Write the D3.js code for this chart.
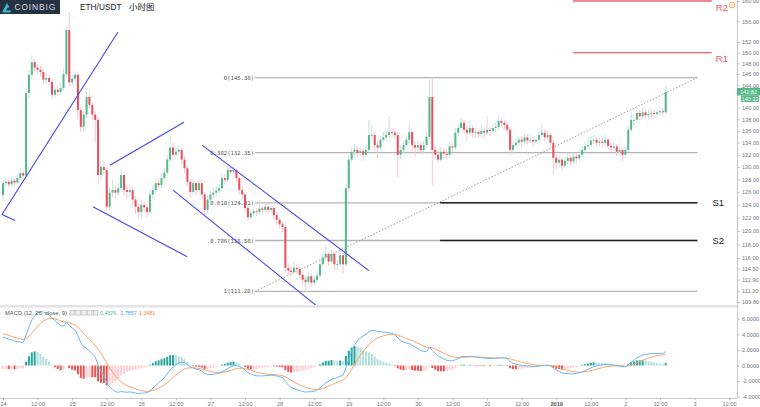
<!DOCTYPE html>
<html><head><meta charset="utf-8">
<script src="https://cdn.jsdelivr.net/npm/d3@7/dist/d3.min.js"></script>
<style>
body{margin:0;background:#fff;}
svg{display:block;font-family:"Liberation Sans",Arial,sans-serif;}
</style>
</head><body>
<svg id="c" width="760" height="407"></svg>
<script>
// ---------------- DATA ----------------
const startTime = new Date(2018, 11, 24, 0, 0); // first hourly candle
const firstOpen = 125.5;
const closes = [127.4,127.6,127.2,127.8,127.5,128.2,129.0,128.6,142.6,145.9,
148.2,147.2,146.8,146.4,145.0,145.3,144.6,142.3,143.2,142.8,
143.5,146.0,154.3,144.5,145.2,145.9,139.6,136.7,138.8,141.9,
140.5,138.8,137.9,128.7,130.0,129.5,123.7,125.9,126.3,125.9,
126.6,128.7,126.3,126.0,126.3,124.8,123.7,122.9,124.0,123.6,
122.9,125.6,126.3,127.4,127.1,128.2,129.1,131.2,133.2,132.0,
132.5,132.8,131.2,129.8,127.6,126.0,127.4,126.3,127.4,125.6,
123.2,124.8,125.6,125.9,126.2,126.6,128.2,127.9,129.5,129.2,
129.5,128.2,126.3,125.6,123.5,122.1,122.7,123.0,122.9,123.4,
123.2,123.7,123.2,123.5,122.4,121.7,121.0,120.6,114.6,114.2,
114.0,114.6,114.4,113.6,112.9,112.6,113.4,112.5,112.9,113.5,
115.1,116.1,116.6,115.5,116.6,115.1,115.1,116.4,115.1,126.6,
131.2,132.5,132.8,132.3,132.6,132.0,132.8,135.3,135.3,133.6,
133.2,134.5,134.9,135.3,135.8,135.7,135.3,132.0,132.8,133.6,
134.5,135.8,133.6,133.2,133.6,132.8,133.6,135.0,141.9,132.8,
132.0,131.2,132.5,132.2,132.0,133.4,133.2,135.7,136.5,137.4,
136.2,135.7,136.5,135.7,135.8,135.5,136.0,135.7,136.2,136.0,
136.5,136.7,137.7,137.4,137.0,136.2,132.8,133.6,134.0,134.5,
134.2,134.9,134.4,134.5,134.2,134.5,135.3,135.7,134.9,135.3,
134.0,131.5,130.7,131.2,130.2,131.0,131.5,130.9,131.7,131.4,
132.0,132.8,133.4,133.6,134.4,134.5,134.0,134.2,134.0,134.5,
133.5,133.2,133.4,132.5,132.8,132.0,132.8,136.2,137.9,137.9,
139.1,138.5,139.2,138.7,138.9,139.1,138.9,139.2,139.4,139.2,
142.8];
const highs = [127.9,128.3,127.9,128.4,128.2,128.9,129.8,129.6,143.4,146.8,
149.5,148.8,147.9,147.5,146.9,146.2,145.8,144.9,144.0,143.9,
144.5,147.0,155.0,157.8,146.1,146.6,146.3,140.2,139.5,142.8,
142.5,140.9,139.4,138.5,131.0,130.8,130.0,126.6,127.9,127.0,
127.5,129.6,129.2,127.1,127.2,126.8,125.4,124.2,124.8,124.6,
124.1,126.3,127.0,128.1,128.2,128.9,129.9,131.9,135.5,134.0,
133.5,133.6,133.2,131.8,130.2,128.0,128.1,127.8,128.3,127.9,
125.9,125.5,126.2,126.6,127.0,127.3,128.9,128.9,130.2,130.1,
130.3,129.9,128.5,126.9,125.9,123.9,123.3,123.6,123.5,124.7,
123.9,124.3,124.1,124.0,123.8,122.8,122.0,121.4,120.9,115.3,
114.8,115.6,115.2,114.8,114.0,113.4,114.0,113.8,113.5,114.1,
115.8,116.8,117.8,116.9,117.3,116.9,115.8,117.5,116.8,127.3,
131.9,133.2,133.8,133.5,133.3,133.0,133.5,137.9,136.9,135.9,
134.3,135.2,135.8,136.2,138.6,136.5,136.4,135.9,133.6,134.3,
135.3,137.3,136.3,134.2,134.4,134.2,134.3,135.8,145.0,145.5,
133.6,132.7,133.3,133.1,132.9,134.2,134.0,136.5,137.2,138.2,
137.9,136.9,137.7,137.0,136.5,136.4,137.0,136.6,138.5,136.9,
137.3,137.5,138.5,138.3,137.9,137.4,136.8,134.4,134.8,135.2,
135.1,135.6,135.4,135.3,135.0,135.2,136.0,137.3,136.2,136.0,
135.6,134.4,131.9,131.9,131.6,131.7,132.2,131.9,132.3,132.2,
132.7,133.5,134.2,134.9,135.2,135.3,135.0,134.9,134.8,135.3,
134.8,134.0,134.1,133.8,133.5,133.2,133.4,137.0,139.5,138.7,
139.9,139.6,140.0,139.7,139.6,139.8,139.7,139.9,140.1,140.0,
143.9];
const lows = [124.8,126.9,126.8,126.9,127.0,127.2,127.9,128.0,128.2,141.5,
145.2,146.5,146.0,145.6,144.2,144.3,143.8,141.5,141.8,142.0,
142.3,143.0,145.5,143.8,143.9,144.6,138.0,135.8,136.0,138.2,
139.8,137.8,134.0,127.2,127.8,128.7,122.9,123.2,125.2,125.0,
125.3,126.0,125.4,124.9,125.3,123.8,122.6,122.1,122.0,122.8,
122.1,122.5,125.0,125.8,126.5,126.6,127.7,128.7,130.8,131.2,
131.3,131.9,130.5,129.0,126.8,125.2,125.5,125.6,125.9,124.9,
122.5,122.7,124.3,125.0,125.4,125.7,126.2,127.2,127.5,128.6,
128.8,127.6,125.5,124.8,122.8,121.5,121.8,122.2,122.3,122.5,
122.6,122.8,122.6,122.7,121.7,121.0,120.3,119.9,114.0,113.5,
113.3,113.6,113.7,113.0,112.2,111.5,112.2,111.9,112.1,112.6,
113.2,114.8,115.6,114.9,115.2,114.2,114.2,114.8,113.8,114.8,
126.1,130.8,131.8,131.6,131.9,131.0,131.6,132.5,134.5,132.6,
131.4,132.8,134.0,134.5,135.0,135.0,134.6,128.4,131.3,132.1,
133.2,134.0,132.7,131.6,132.5,132.0,132.2,133.2,134.6,127.1,
131.2,130.6,130.9,131.5,131.2,131.6,132.4,132.8,135.0,136.2,
135.5,134.3,135.2,134.9,135.0,134.8,134.9,134.6,135.3,135.1,
135.5,135.8,136.2,136.8,136.2,135.5,132.0,132.1,133.1,133.5,
133.4,133.8,133.7,133.9,133.5,133.8,134.0,134.9,134.2,134.4,
133.3,128.7,129.7,130.0,129.4,129.8,130.5,130.2,130.5,130.7,
131.0,131.6,132.4,133.0,133.3,133.8,133.4,133.5,133.3,133.6,
132.9,132.4,132.6,131.8,132.0,131.0,131.6,132.4,135.8,137.0,
137.6,137.8,138.0,138.0,138.2,138.3,138.2,138.5,138.6,138.5,
139.0];

const priceTicks = [160,156,152,150,148,146,144,140,138,136,134,132,130,128,126,124,122,120,118,116,114.5,112.9,111.3,109.8];
const macdTicks = [6,4,2,0,-2,-4];
const xTickLabels = ["24","12:00","25","12:00","26","12:00","27","12:00","28","12:00","29","12:00","30","12:00","31","12:00","2019","12:00","2","12:00","3","12:00"];
const macdSeed = [125.0, 121.3, 4.2];       // EMA12, EMA26, signal before first candle
const macdLegend = ["0.4376","1.7857","1.3481"];
const priceTags = ["142.82","140.33"];

const fibRatios = ["0","0.382","0.618","0.786","1"];
const fibLevels = [145.38,132.35,124.31,118.58,111.28];
const fibSpan = [87.5, 241];                // hours from start

const pivotNames = ["R2","R1","S1","S2"];
const pivotLevels = [160,150,124.31,118.58];
const pivotSpans = [[197.8,246],[197.8,246],[151.7,241],[151.7,241]];

// trend lines: [hourA, priceA, hourB, priceB]
const trendLines = [
  [-0.35,122.5, 39.9,153.9],
  [-0.35,122.5, 4.2,121.6],
  [37.1,130.3, 62.8,137.5],
  [31.2,123.7, 63.9,116.2],
  [69.1,133.6, 127.0,114.2],
  [59.0,126.3, 110.0,108.9]
];
const fibDiagonal = [87.5,111.28, 241,145.38];

// ---------------- SCALES ----------------
const svg = d3.select("#c");
const x = d3.scaleTime().domain([startTime, d3.timeHour.offset(startTime, 252)]).range([3, 729.1]);
const xh = h => x(new Date(startTime.getTime() + h*3600e3));
const y = d3.scaleLog().domain([109.8,160]).range([302,1]);
const ym = d3.scaleLinear().domain([-4,6]).range([396.7,318.7]);
const AX = 737;

const candles = closes.map((c,i)=>({
  t: d3.timeHour.offset(startTime,i),
  o: i===0?firstOpen:closes[i-1], c, h: highs[i], l: lows[i]
}));

// MACD (12,26,9) from closes
const k12=2/13,k26=2/27,k9=2/10;
let e12=macdSeed[0], e26=macdSeed[1], sig=macdSeed[2], prevHist=macdSeed[0]-macdSeed[1]-macdSeed[2];
const macd = candles.map(d=>{
  e12 = d.c*k12 + e12*(1-k12);
  e26 = d.c*k26 + e26*(1-k26);
  const m = e12-e26;
  sig = m*k9 + sig*(1-k9);
  const hst = m-sig;
  const r = {t:d.t, m, s:sig, hst, prev: prevHist};
  prevHist = hst;
  return r;
});

// ---------------- CLIPS ----------------
const defs = svg.append("defs");
defs.append("clipPath").attr("id","cp").append("rect").attr("x",0).attr("y",0).attr("width",AX).attr("height",305);
defs.append("clipPath").attr("id","cm").append("rect").attr("x",0).attr("y",308).attr("width",AX).attr("height",89);

svg.append("rect").attr("x",0).attr("y",305).attr("width",AX).attr("height",2.5).attr("fill","#e4e4e4");

const gp = svg.append("g").attr("clip-path","url(#cp)");

// fib levels
fibLevels.forEach((v,i)=>{
  gp.append("line").attr("x1",xh(fibSpan[0])).attr("x2",xh(fibSpan[1]))
    .attr("y1",y(v)).attr("y2",y(v)).attr("stroke","#b4b4b4").attr("stroke-width",1.3);
  gp.append("text").attr("x",xh(fibSpan[0])-1).attr("y",y(v)+2).attr("text-anchor","end")
    .attr("font-size",5.6).attr("fill","#555").attr("font-family","DejaVu Sans Mono, monospace")
    .text(fibRatios[i]+"("+v.toFixed(2)+")");
});
gp.append("line").attr("x1",xh(fibDiagonal[0])).attr("y1",y(fibDiagonal[1]))
  .attr("x2",xh(fibDiagonal[2])).attr("y2",y(fibDiagonal[3]))
  .attr("stroke","#9a9a9a").attr("stroke-width",0.9).attr("stroke-dasharray","1.6,1.6");

// pivots
pivotLevels.forEach((v,i)=>{
  const red = pivotNames[i][0]==="R";
  svg.append("line").attr("x1",xh(pivotSpans[i][0])).attr("x2",xh(pivotSpans[i][1]))
    .attr("y1",y(v)).attr("y2",y(v)).attr("stroke",red?"#f0606c":"#222").attr("stroke-width",red?1.3:1.5);
  svg.append("text").attr("x",xh(pivotSpans[i][1])+(red?4:15)).attr("y",y(v)+(red?9.5:3.5))
    .attr("font-size",9.5).attr("fill",red?"#f0606c":"#222").text(pivotNames[i]);
});

// candles
const up = d=>d.c>=d.o;
gp.selectAll("line.wick").data(candles).join("line")
  .attr("x1",d=>x(d.t)).attr("x2",d=>x(d.t))
  .attr("y1",d=>y(Math.max(d.h,d.o,d.c))).attr("y2",d=>y(Math.min(d.l,d.o,d.c)))
  .attr("stroke",d=>up(d)?"#c6dfe6":"#f8c6cc").attr("stroke-width",1);
gp.selectAll("rect.body").data(candles).join("rect")
  .attr("x",d=>x(d.t)-1).attr("width",2)
  .attr("y",d=>y(Math.max(d.o,d.c)))
  .attr("height",d=>Math.max(0.8, y(Math.min(d.o,d.c))-y(Math.max(d.o,d.c))))
  .attr("fill",d=>up(d)?"#53b987":"#eb4d5c");

// trend lines
trendLines.forEach(t=>{
  gp.append("line").attr("x1",xh(t[0])).attr("y1",y(t[1])).attr("x2",xh(t[2])).attr("y2",y(t[3]))
    .attr("stroke","#4242f2").attr("stroke-width",1.1);
});

// ---------------- MACD pane ----------------
const gm = svg.append("g").attr("clip-path","url(#cm)");
gm.selectAll("rect.h").data(macd).join("rect")
  .attr("x",d=>x(d.t)-1).attr("width",2)
  .attr("y",d=>ym(Math.max(0,d.hst))).attr("height",d=>Math.max(0.6,Math.abs(ym(d.hst)-ym(0))))
  .attr("fill",d=> d.hst>=0 ? (d.hst>=d.prev?"#26a69a":"#b2dfdb") : (d.hst<=d.prev?"#ef5350":"#ffcdd2"));
gm.append("path").datum(macd).attr("fill","none").attr("stroke","#f9a66c").attr("stroke-width",1)
  .attr("d",d3.line().x(d=>x(d.t)).y(d=>ym(d.s)));
gm.append("path").datum(macd).attr("fill","none").attr("stroke","#6ab8f3").attr("stroke-width",1)
  .attr("d",d3.line().x(d=>x(d.t)).y(d=>ym(d.m)));

// MACD legend
const lg = svg.append("g");
lg.append("text").attr("x",5).attr("y",315).attr("font-size",5.8).attr("fill","#555").text("MACD (12, 26, close, 9) \u2304");
for(let i=0;i<5;i++){
  lg.append("rect").attr("x",70+i*5.8).attr("y",310.5).attr("width",4.6).attr("height",4.6)
    .attr("fill","#eee").attr("stroke","#aaa").attr("stroke-width",0.5);
}
const lgc=["#3bb59b","#3e9ff0","#f5862a"], lgx=[100,120.5,139];
macdLegend.forEach((v,i)=>lg.append("text").attr("x",lgx[i]).attr("y",315).attr("font-size",5.3).attr("fill",lgc[i]).text(v));

// ---------------- AXES ----------------
function styleAxis(g){
  g.selectAll(".domain").attr("stroke","#c8c8c8");
  g.selectAll(".tick line").attr("stroke","#bbb");
  g.selectAll(".tick text").attr("fill","#777").attr("font-size",5.6).attr("font-family","Liberation Sans, Arial");
}
const pa = svg.append("g").attr("transform",`translate(${AX},0)`)
  .call(d3.axisRight(y).tickValues(priceTicks).tickFormat(d=>d.toFixed(2)).tickSize(2.5).tickPadding(2.5));
styleAxis(pa);
pa.select(".domain").attr("d","M0.5,0V398");
const ma = svg.append("g").attr("transform",`translate(${AX},0)`)
  .call(d3.axisRight(ym).tickValues(macdTicks).tickFormat(d=>d.toFixed(4)).tickSize(2.5).tickPadding(2.5));
styleAxis(ma); ma.select(".domain").remove();

const xt = xTickLabels.map((_,i)=>d3.timeHour.offset(startTime,12*i));
const xa = svg.append("g").attr("transform","translate(0,398.5)")
  .call(d3.axisBottom(x).tickValues(xt).tickFormat((d,i)=>xTickLabels[i]).tickSize(2).tickPadding(1.5));
styleAxis(xa);
xa.select(".domain").attr("d",`M0,0H${AX}`);
xa.selectAll(".tick text").filter((d,i)=>xTickLabels[i]==="2019").attr("font-weight","bold").attr("fill","#555");

// price tags
const lastY = y(closes[closes.length-1]);
svg.append("rect").attr("x",AX).attr("y",lastY-4).attr("width",23).attr("height",7.5).attr("fill","#53b987");
svg.append("text").attr("x",AX+11.5).attr("y",lastY+1.8).attr("text-anchor","middle").attr("font-size",5.6).attr("fill","#fff").text(priceTags[0]);
svg.append("rect").attr("x",AX+4).attr("y",lastY+3.5).attr("width",18).attr("height",6.5).attr("fill","#53b987");
svg.append("text").attr("x",AX+13).attr("y",lastY+8.6).attr("text-anchor","middle").attr("font-size",5.4).attr("fill","#fff").text(priceTags[1]);

// alert icon
svg.append("circle").attr("cx",732).attr("cy",5).attr("r",2.8).attr("fill","none").attr("stroke","#f5a04a").attr("stroke-width",0.9);
svg.append("path").attr("d","M732,3.4V5.2H733.4").attr("fill","none").attr("stroke","#f5a04a").attr("stroke-width",0.7);

// ---------------- HEADER ----------------
svg.append("rect").attr("x",0).attr("y",0).attr("width",60).attr("height",14).attr("fill","#243241");
svg.append("path").attr("d","M2.5,11.5L7,3L9.5,7.5L7.5,7.5L6,10.5H11.5L10,12.5H2.5Z").attr("fill","#3fb8d8");
svg.append("text").attr("x",14.5).attr("y",10.3).attr("font-size",8.4).attr("fill","#d9dee4").attr("letter-spacing",0.9).text("COINBIG");
svg.append("text").attr("x",80).attr("y",10).attr("font-size",8.3).attr("fill","#222").text("ETH/USDT");
svg.append("text").attr("x",129).attr("y",10).attr("font-size",8.5).attr("fill","#222")
  .attr("font-family","Noto Sans CJK SC, sans-serif").text("小时图");
</script>
</body></html>
